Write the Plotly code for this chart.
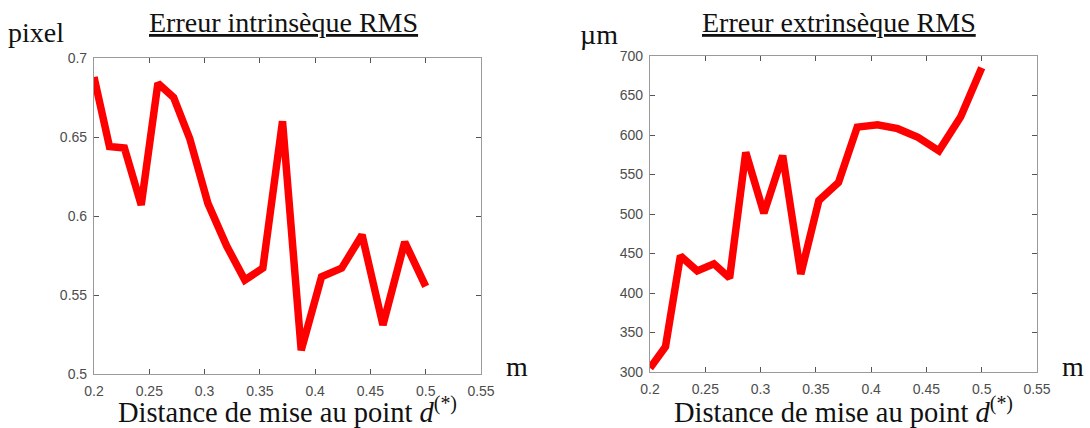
import plotly.graph_objects as go

# ---- data ----
distance = [0.2, 0.214, 0.2275, 0.2427, 0.2578, 0.272, 0.2866, 0.303, 0.32, 0.3364,
            0.3527, 0.3705, 0.3874, 0.4058, 0.424, 0.4424, 0.4613, 0.481, 0.5]
err_intr = [0.688, 0.644, 0.643, 0.607, 0.684, 0.675, 0.649, 0.608, 0.581, 0.5595,
            0.567, 0.660, 0.515, 0.5615, 0.567, 0.588, 0.531, 0.5835, 0.5555]
err_extr = [305, 332, 447, 428, 437, 419, 578, 501, 574, 424,
            517, 540, 610, 613, 608, 597, 580, 623, 685]

x_ticks = [0.2, 0.25, 0.3, 0.35, 0.4, 0.45, 0.5, 0.55]
x_ticktext = ["0.2", "0.25", "0.3", "0.35", "0.4", "0.45", "0.5", "0.55"]
y1_ticks = [0.5, 0.55, 0.6, 0.65, 0.7]
y1_ticktext = ["0.5", "0.55", "0.6", "0.65", "0.7"]
y2_ticks = [300, 350, 400, 450, 500, 550, 600, 650, 700]
y2_ticktext = [str(v) for v in y2_ticks]

titles = ["Erreur intrinsèque RMS", "Erreur extrinsèque RMS"]
xlabel = "Distance de mise au point <i>d</i><sup>(*)</sup>"

W, H = 1090, 428
SERIF = "Liberation Serif"
TICKFONT = dict(family="Liberation Sans, Arial", size=14, color="#4d4d4d")
AXCOL = "#9a9a9a"

fig = go.Figure()
fig.add_trace(go.Scatter(x=distance, y=err_intr, mode="lines",
                         line=dict(color="#ff0000", width=7.5),
                         xaxis="x", yaxis="y", showlegend=False, hoverinfo="skip"))
fig.add_trace(go.Scatter(x=distance, y=err_extr, mode="lines",
                         line=dict(color="#ff0000", width=7.5),
                         xaxis="x2", yaxis="y2", showlegend=False, hoverinfo="skip"))

def xax(domain, anchor):
    return dict(domain=domain, anchor=anchor, range=[0.2, 0.55], automargin=False,
                tickvals=x_ticks, ticktext=x_ticktext, ticks="inside", ticklen=5,
                tickcolor="#555555", showline=True, linecolor=AXCOL, linewidth=1.2,
                mirror="ticks", showgrid=False, zeroline=False, tickfont=TICKFONT,
                ticklabelstandoff=4,
                title=dict(text=xlabel, font=dict(family=SERIF, size=28.5, color="#111"),
                           standoff=7))

def yax(domain, anchor, rng, tv, tt):
    return dict(domain=domain, anchor=anchor, range=rng, tickvals=tv, ticktext=tt,
                automargin=False,
                ticks="inside", ticklen=5, tickcolor="#555555", showline=True,
                linecolor=AXCOL, linewidth=1.2, mirror="ticks", showgrid=False,
                zeroline=False, tickfont=TICKFONT, ticklabelstandoff=3)

L1, R1 = 94 / W, 481 / W
L2, R2 = 650 / W, 1037 / W
fig.update_layout(
    width=W, height=H, margin=dict(l=0, r=0, t=0, b=0, autoexpand=False),
    paper_bgcolor="white", plot_bgcolor="white",
    xaxis=xax([L1, R1], "y"),
    yaxis=yax([(H - 374) / H, (H - 58) / H], "x", [0.5, 0.7], y1_ticks, y1_ticktext),
    xaxis2=xax([L2, R2], "y2"),
    yaxis2=yax([(H - 372) / H, (H - 56) / H], "x2", [300, 700], y2_ticks, y2_ticktext),
)

ann_font = dict(family=SERIF, size=28, color="#111")
for i, (l, r) in enumerate([(L1, R1), (L2, R2)]):
    fig.add_annotation(text=titles[i], xref="paper", yref="paper", x=(l + r) / 2 - 4 / W,
                       y=(H - 40) / H, xanchor="center", yanchor="bottom", showarrow=False,
                       font=dict(family=SERIF, size=28, color="#111", lineposition="under"))
fig.add_annotation(text="pixel", xref="paper", yref="paper", x=6 / W, y=(H - 50) / H,
                   xanchor="left", yanchor="bottom", showarrow=False, font=ann_font)
fig.add_annotation(text="µm", xref="paper", yref="paper", x=578 / W, y=(H - 52) / H,
                   xanchor="left", yanchor="bottom", showarrow=False, font=ann_font)
fig.add_annotation(text="m", xref="paper", yref="paper", x=504 / W, y=(H - 384) / H,
                   xanchor="left", yanchor="bottom", showarrow=False, font=ann_font)
fig.add_annotation(text="m", xref="paper", yref="paper", x=1060 / W, y=(H - 384) / H,
                   xanchor="left", yanchor="bottom", showarrow=False, font=ann_font)

fig.write_html("out.html", config={"displayModeBar": False},
               post_script="document.body.style.margin='0';")
